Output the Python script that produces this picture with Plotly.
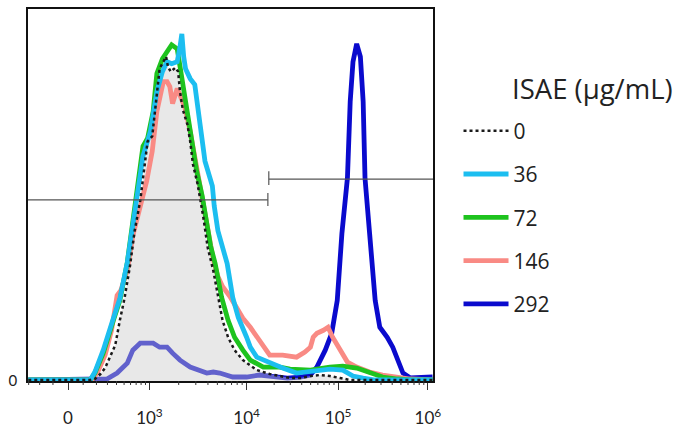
import numpy as np
import plotly.graph_objects as go

# ---------------- data (x: logicle display position in decades, y: events per bin) ----------------
x_0 = [1.68,2.35,2.40,2.46,2.51,2.56,2.62,2.67,2.72,2.78,2.83,2.89,2.94,2.97,3.02,3.06,3.10,3.14,3.17,3.19,
       3.22,3.27,3.30,3.32,3.35,3.40,3.43,3.46,3.51,3.57,3.62,3.68,3.73,3.78,3.84,3.91,4.00,4.15,4.29,4.43,
       4.51,4.62,4.73,4.83,4.94,5.05,5.16,6.05]
y_0 = [1,1,2,7,13,23,36,61,83,116,151,181,221,241,246,281,314,321,326,316,
       311,315,311,291,273,258,241,218,198,166,134,111,84,61,44,31,21,11,7,4,
       3,3,5,6,5,3,1,1]

x_36 = [1.68,2.35,2.40,2.49,2.60,2.67,2.75,2.81,2.87,2.92,3.00,3.07,3.13,3.18,3.23,3.29,3.32,3.34,3.36,3.38,
        3.43,3.48,3.54,3.59,3.67,3.69,3.73,3.83,3.89,3.95,4.04,4.08,4.15,4.29,4.43,4.58,4.65,4.80,4.94,5.08,
        5.19,5.30,5.43,6.05]
y_36 = [1,1,9,31,63,83,119,156,191,226,251,291,311,321,319,321,336,349,326,314,
        304,298,256,221,196,176,151,118,84,64,44,34,24,18,13,8,9,11,12,11,
        5,3,1,1]

x_72 = [1.68,2.35,2.40,2.49,2.60,2.67,2.75,2.81,2.87,2.92,2.97,3.03,3.07,3.13,3.18,3.23,3.29,3.34,3.38,3.43,
        3.50,3.56,3.61,3.65,3.70,3.77,3.84,3.91,4.00,4.08,4.22,4.40,4.51,4.73,4.94,5.08,5.23,5.37,5.51,5.67,
        5.81,6.05]
y_72 = [1,1,8,28,61,81,119,161,196,236,244,271,309,324,331,338,334,306,281,251,
        211,186,161,136,118,84,61,44,31,21,14,14,12,11,14,15,13,8,4,2,
        1,1]

x_146 = [1.68,2.37,2.43,2.51,2.58,2.64,2.68,2.75,2.81,2.89,2.96,3.02,3.07,3.14,3.18,3.21,3.24,3.29,3.32,3.37,
         3.43,3.50,3.57,3.62,3.68,3.73,3.78,3.86,3.94,4.00,4.08,4.15,4.22,4.29,4.43,4.58,4.67,4.73,4.76,4.80,
         4.87,4.92,4.97,5.05,5.13,5.23,5.37,5.51,5.67,5.81,6.05]
y_146 = [1,1,9,26,51,86,91,111,146,176,201,231,271,301,301,296,279,294,288,276,
         251,213,181,150,122,105,95,85,72,63,54,44,34,26,26,24,29,34,44,48,
         51,54,44,31,19,14,9,6,4,2,1]

x_292 = [1.68,2.46,2.53,2.64,2.75,2.81,2.89,2.96,3.03,3.10,3.18,3.24,3.32,3.43,3.54,3.61,3.68,3.75,3.89,4.04,
         4.18,4.33,4.48,4.62,4.73,4.80,4.89,4.96,5.02,5.07,5.13,5.16,5.19,5.23,5.27,5.30,5.32,5.37,5.43,5.48,
         5.56,5.62,5.68,5.73,5.81,5.95,6.05]
y_292 = [1,1,2,8,18,31,38,38,38,34,34,28,21,14,11,8,9,8,4,4,
         6,4,3,4,6,14,31,48,81,148,204,281,321,339,326,281,204,148,81,54,
         44,34,21,8,3,3,4]

series_names = ["0", "36", "72", "146", "292"]
legend_title = "ISAE (μg/mL)"

# axis ticks (logicle display positions of the labelled values)
major_values = [0, 1e3, 1e4, 1e5, 1e6]
major_pos = [2.11, 2.99, 4.04, 5.03, 6.00]
major_text = ["0", "10<sup>3</sup>", "10<sup>4</sup>", "10<sup>5</sup>", "10<sup>6</sup>"]
minor_values = [-300, -200, -100, 100, 200, 300, 400, 500, 600, 700, 800, 900] + \
               [k * 10 ** d for d in (3, 4, 5) for k in range(2, 10)]

# gates
gate_split = 4.27
gate_left_y = 182
gate_right_y = 203

X_RANGE = [1.677, 6.055]
Y_RANGE = [0, 374]


def display(v):
    """piecewise logicle-like display transform matching the axis tick positions"""
    if v >= 1e3:
        d = int(np.floor(np.log10(v)))
        lo, hi = major_pos[d - 2], major_pos[d - 1]
        return lo + (np.log10(v) - d) * (hi - lo)
    W = 252.0
    return major_pos[0] + (major_pos[1] - major_pos[0]) * np.arcsinh(v / W) / np.arcsinh(1e3 / W)


C_BLUE = "#0A0ACD"
C_CYAN = "#1CBEF0"
C_GREEN = "#1EC31E"
C_PINK = "#F98A84"
C_DOT = "#1a1a1a"
LW = 4.8
FONT = "Open Sans"

fig = go.Figure()
# 292 drawn first so the grey fill of the control tints it
fig.add_trace(go.Scatter(x=x_292, y=y_292, mode="lines", name=series_names[4],
                         line=dict(color=C_BLUE, width=LW), legendrank=5, legendgroup="g292"))
fig.add_trace(go.Scatter(x=x_0, y=y_0, mode="lines", fill="tozeroy",
                         fillcolor="rgba(205,205,205,0.45)", line=dict(width=0),
                         showlegend=False, hoverinfo="skip"))
fig.add_trace(go.Scatter(x=x_146, y=y_146, mode="lines", name=series_names[3],
                         line=dict(color=C_PINK, width=LW), legendrank=4, legendgroup="g146"))
fig.add_trace(go.Scatter(x=x_72, y=y_72, mode="lines", name=series_names[2],
                         line=dict(color=C_GREEN, width=LW), legendrank=3, legendgroup="g72"))
fig.add_trace(go.Scatter(x=x_36, y=y_36, mode="lines", name=series_names[1],
                         line=dict(color=C_CYAN, width=LW), legendrank=2, legendgroup="g36"))
fig.add_trace(go.Scatter(x=x_0, y=y_0, mode="lines", name=series_names[0],
                         line=dict(color=C_DOT, width=2.5, dash="dot"), legendrank=1, legendgroup="g0"))

shapes = []
plot_h = 374.0
for v in minor_values:
    p = display(v)
    if X_RANGE[0] < p < X_RANGE[1]:
        shapes.append(dict(type="line", xref="x", yref="paper", x0=p, x1=p, y0=0, y1=-4 / plot_h,
                           line=dict(color="#333", width=1)))
gcol = "#555555"
shapes += [
    dict(type="line", xref="x", yref="y", x0=X_RANGE[0], x1=gate_split, y0=gate_left_y, y1=gate_left_y,
         line=dict(color=gcol, width=1.2)),
    dict(type="line", xref="x", yref="y", x0=gate_split, x1=gate_split, y0=gate_left_y - 6, y1=gate_left_y + 7,
         line=dict(color=gcol, width=1.2)),
    dict(type="line", xref="x", yref="y", x0=gate_split + 0.01, x1=X_RANGE[1], y0=gate_right_y, y1=gate_right_y,
         line=dict(color=gcol, width=1.2)),
    dict(type="line", xref="x", yref="y", x0=gate_split + 0.01, x1=gate_split + 0.01, y0=gate_right_y - 6,
         y1=gate_right_y + 8, line=dict(color=gcol, width=1.2)),
]

fig.update_layout(
    width=683, height=437,
    margin=dict(l=28, r=250, t=7, b=56),
    paper_bgcolor="white", plot_bgcolor="white",
    font=dict(family=FONT, color="#222"),
    shapes=shapes,
    showlegend=True,
    legend=dict(x=1.063, y=0.727, xanchor="left", yanchor="top",
                font=dict(size=21, family=FONT, color="#222"),
                tracegroupgap=13, itemwidth=45, bgcolor="rgba(0,0,0,0)"),
    annotations=[dict(text=legend_title, xref="paper", yref="paper", x=1.19, y=0.786,
                      xanchor="left", yanchor="middle", showarrow=False,
                      font=dict(size=27.5, family=FONT, color="#222"))],
)
fig.update_xaxes(range=X_RANGE, showgrid=False, zeroline=False, showline=True, mirror=True,
                 linecolor="#111", linewidth=1.5, ticks="outside", ticklen=7, tickwidth=1,
                 tickcolor="#333", tickvals=major_pos, ticktext=major_text,
                 tickfont=dict(size=17, family="Lato", color="#222"), ticklabelstandoff=14)
fig.update_yaxes(range=Y_RANGE, showgrid=False, zeroline=False, showline=True, mirror=True,
                 linecolor="#111", linewidth=1.5, ticks="", tickvals=[0], ticktext=["0"],
                 tickfont=dict(size=15, family="Lato", color="#222"), ticklabelstandoff=6)

fig.write_html("out.html", post_script="document.body.style.margin='0';",
               config={"displayModeBar": False})
